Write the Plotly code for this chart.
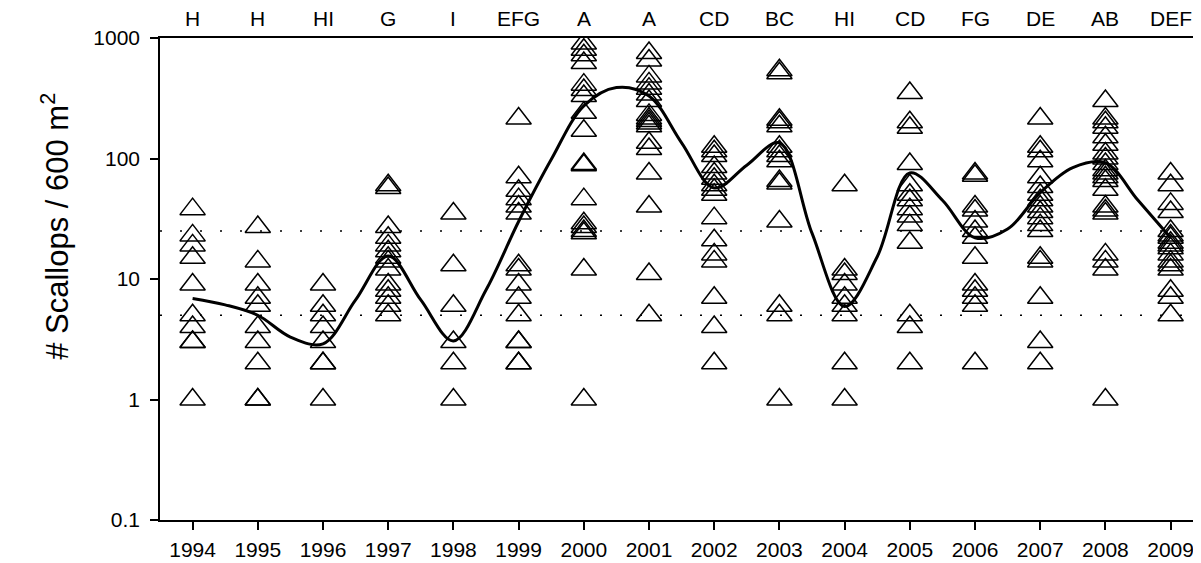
import plotly.graph_objects as go

years = list(range(1994, 2010))
groups = ["H", "H", "HI", "G", "I", "EFG", "A", "A", "CD", "BC", "HI", "CD", "FG", "DE", "AB", "DEF"]

counts = {
    1994: [38, 23, 19, 15, 9, 5, 4, 3, 3, 1],
    1995: [27, 14, 9, 7, 6, 4, 3, 2, 1, 1],
    1996: [9, 6, 5, 4, 3, 2, 2, 1],
    1997: [60, 57, 27, 22, 19, 17, 15, 14, 12, 9, 8, 7, 6, 5],
    1998: [35, 13, 6, 3, 2, 1],
    1999: [215, 70, 54, 46, 40, 35, 13, 12, 9, 7, 5, 3, 3, 2, 2],
    2000: [900, 800, 720, 620, 410, 370, 330, 240, 170, 90, 88, 46, 29, 27, 25, 24, 12, 1],
    2001: [750, 650, 480, 420, 380, 340, 300, 230, 215, 205, 195, 185, 135, 120, 75, 40, 11, 5],
    2002: [125, 115, 105, 85, 75, 68, 60, 55, 50, 32, 21, 16, 14, 7, 4, 2],
    2003: [540, 510, 210, 200, 185, 125, 115, 105, 95, 65, 62, 30, 6, 5, 1],
    2004: [60, 12, 11, 9, 7, 6, 5, 2, 1],
    2005: [350, 200, 180, 90, 60, 50, 45, 38, 33, 28, 20, 5, 4, 2],
    2006: [75, 72, 40, 37, 30, 25, 22, 15, 9, 8, 7, 6, 2],
    2007: [215, 125, 115, 95, 70, 58, 50, 45, 40, 36, 32, 28, 25, 15, 14, 7, 3, 2],
    2008: [300, 215, 200, 180, 150, 130, 110, 100, 90, 80, 75, 70, 65, 55, 40, 37, 35, 16, 14, 12, 1],
    2009: [75, 60, 42, 36, 25, 23, 22, 20, 19, 18, 16, 14, 13, 12, 8, 7, 5],
}

# smooth trend line
curve_x = [1994, 1994.5, 1995, 1995.5, 1996, 1996.5, 1997, 1997.5, 1998, 1998.5,
           1999, 1999.5, 2000, 2000.5, 2001, 2001.5, 2002, 2002.5, 2003, 2003.5,
           2004, 2004.5, 2005, 2005.5, 2006, 2006.5, 2007, 2007.5, 2008, 2008.5, 2009]
curve_y = [6.9, 6.1, 5.0, 3.3, 2.9, 6.7, 15.5, 6.7, 3.06, 8.1,
           30, 98, 273, 388, 330, 135, 57, 88, 135, 24,
           5.9, 15.3, 76, 45, 22, 26, 52, 84, 92, 45, 22]

ref_lines = [5, 25]
y_ticks = [0.1, 1, 10, 100, 1000]
y_ticklabels = ["0.1", "1", "10", "100", "1000"]

FONT = "Liberation Sans, Arial, sans-serif"

fig = go.Figure()

for v in ref_lines:
    fig.add_shape(type="line", xref="paper", x0=0, x1=1, yref="y", y0=v, y1=v,
                  line=dict(color="black", width=1.5, dash="2px,18px"), layer="below")

px, py = [], []
for yr in years:
    for c in counts[yr]:
        px.append(yr)
        py.append(c)

fig.add_trace(go.Scatter(
    x=px, y=py, mode="markers",
    marker=dict(symbol="triangle-up-open", size=22, color="black", line=dict(width=1.5, color="black")),
    hoverinfo="x+y", showlegend=False))

fig.add_trace(go.Scatter(
    x=curve_x, y=curve_y, mode="lines",
    line=dict(color="black", width=3, shape="spline", smoothing=1.0),
    hoverinfo="skip", showlegend=False))

for yr, g in zip(years, groups):
    fig.add_annotation(x=yr, xref="x", y=1, yref="paper", yshift=20, text=g,
                       showarrow=False, yanchor="middle",
                       font=dict(family=FONT, size=21, color="black"))

fig.add_annotation(x=-0.101, xref="paper", y=0.61, yref="paper",
                   text="# Scallops / 600 m<sup>2</sup>", textangle=-90, showarrow=False,
                   xanchor="center", yanchor="middle",
                   font=dict(family=FONT, size=31, color="black"))

fig.update_xaxes(range=[1993.5, 2009.466], tickmode="array", tickvals=years,
                 ticktext=[str(y) for y in years], ticks="outside", ticklen=8, tickwidth=1.5,
                 tickcolor="black", showline=True, linecolor="black", linewidth=1.5,
                 mirror=True, showgrid=False, zeroline=False, ticklabelstandoff=2,
                 tickfont=dict(family=FONT, size=21, color="black"))
fig.update_yaxes(type="log", range=[-1, 3], tickmode="array", tickvals=y_ticks,
                 ticktext=y_ticklabels, ticks="outside", ticklen=8, tickwidth=1.5,
                 tickcolor="black", showline=True, linecolor="black", linewidth=1.5,
                 showgrid=False, zeroline=False, ticklabelstandoff=6,
                 tickfont=dict(family=FONT, size=21, color="black"))

# page body adds an 8px offset, compensated in the margins
fig.update_layout(width=1201, height=563, margin=dict(l=152, r=8, t=30, b=51),
                  plot_bgcolor="white", paper_bgcolor="white", showlegend=False)

fig.write_html("out.html")
